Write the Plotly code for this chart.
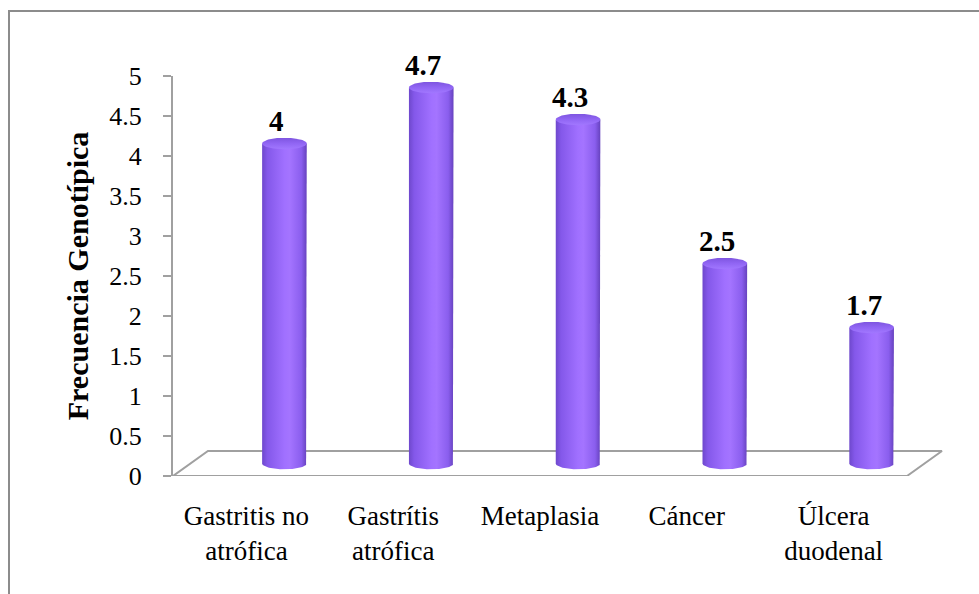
import numpy as np
import plotly.graph_objects as go

# --- data -------------------------------------------------------------
categorias = ["Gastritis no atrófica", "Gastrítis atrófica", "Metaplasia",
              "Cáncer", "Úlcera duodenal"]
etiquetas_eje = ["Gastritis no<br>atrófica", "Gastrítis<br>atrófica", "Metaplasia",
                 "Cáncer", "Úlcera<br>duodenal"]
frecuencia = [4.0, 4.7, 4.3, 2.5, 1.7]
etiquetas_valor = ["4", "4.7", "4.3", "2.5", "1.7"]
y_ticks = [0, 0.5, 1, 1.5, 2, 2.5, 3, 3.5, 4, 4.5, 5]
y_tick_text = ["0", "0.5", "1", "1.5", "2", "2.5", "3", "3.5", "4", "4.5", "5"]
Y_MAX = 5

# --- pseudo-3D geometry (axis units) -----------------------------------
FLOOR_DX, FLOOR_DY = 0.238, 0.3125      # depth of the floor plate
BAR_DX, BAR_DY = 0.259, 0.156           # where the cylinders stand in depth
RX, RY = 0.152, 0.072                   # cylinder ellipse half-axes
LABEL_DX, LABEL_DY = 0.205, 0.44        # value label offset from the category
GRAY = "#A0A0A0"
FONT = "Times New Roman, Liberation Serif, DejaVu Serif, serif"

fig = go.Figure()

# floor plate
n = len(categorias)
fx = [-0.5, n - 0.5, n - 0.5 + FLOOR_DX, -0.5 + FLOOR_DX, -0.5]
fy = [0, 0, FLOOR_DY, FLOOR_DY, 0]
fig.add_trace(go.Scatter(x=fx, y=fy, mode="lines", fill="toself",
                         fillcolor="white", line=dict(color=GRAY, width=2),
                         hoverinfo="skip", showlegend=False))

body_scale = [[0.0, "#6E48CC"], [0.12, "#8458EA"], [0.5, "#A070FF"],
              [0.62, "#A474FF"], [0.88, "#8A5EEE"], [1.0, "#6642BE"]]
top_scale = [[0.0, "#A278FF"], [0.5, "#9166F4"], [1.0, "#7E55E0"]]

theta_front = np.linspace(0, -np.pi, 40)
theta_full = np.linspace(0, 2 * np.pi, 80)

for i, v in enumerate(frecuencia):
    c = i + BAR_DX
    yb = BAR_DY
    yt = v + BAR_DY
    # cylinder body: sides plus the visible front half of the base
    bx = [c - RX, c - RX, c + RX, c + RX] + list(c + RX * np.cos(theta_front))
    by = [yb, yt, yt, yb] + list(yb + RY * np.sin(theta_front))
    fig.add_trace(go.Scatter(
        x=bx, y=by, mode="lines", fill="toself",
        fillgradient=dict(type="horizontal", colorscale=body_scale),
        line=dict(width=0, color="rgba(0,0,0,0)"),
        hoverinfo="skip", showlegend=False))
    # cylinder cap
    tx = c + RX * np.cos(theta_full)
    ty = yt + RY * np.sin(theta_full)
    fig.add_trace(go.Scatter(
        x=tx, y=ty, mode="lines", fill="toself",
        fillgradient=dict(type="vertical", colorscale=top_scale),
        line=dict(width=0, color="rgba(0,0,0,0)"),
        hoverinfo="skip", showlegend=False))

# value labels above each cylinder (paper y so labels above the top tick stay visible)
for i, (v, t) in enumerate(zip(frecuencia, etiquetas_valor)):
    fig.add_annotation(x=i + LABEL_DX, xref="x",
                       y=(v + LABEL_DY) / Y_MAX, yref="paper",
                       text=t, showarrow=False,
                       xanchor="center", yanchor="middle",
                       font=dict(family=FONT, size=29, color="black",
                                 weight="bold"))

fig.update_layout(
    width=979, height=594,
    margin=dict(l=173, r=36, t=76, b=118),
    paper_bgcolor="white", plot_bgcolor="white",
    xaxis=dict(range=[-0.5, n - 0.5 + 0.245], showline=False, showgrid=False,
               zeroline=False, tickmode="array", tickvals=list(range(n)),
               ticktext=etiquetas_eje, ticks="", ticklabelstandoff=21,
               tickfont=dict(family=FONT, size=27, color="black"),
               fixedrange=True),
    yaxis=dict(range=[0, Y_MAX], showline=True, linecolor=GRAY, linewidth=2,
               showgrid=False, zeroline=False, tickmode="array",
               tickvals=y_ticks, ticktext=y_tick_text, ticks="outside",
               ticklen=8, tickcolor=GRAY, tickwidth=2, ticklabelstandoff=16,
               tickfont=dict(family=FONT, size=26, color="black"),
               title=dict(text="Frecuencia Genotípica", standoff=12,
                          font=dict(family=FONT, size=30, color="black",
                                    weight="bold")),
               fixedrange=True),
    shapes=[dict(type="rect", xref="paper", yref="paper",
                 x0=(9 - 173) / 770, x1=(990 - 173) / 770,
                 y0=(476 - 610) / 400, y1=(476 - 11) / 400,
                 line=dict(color="#8C8C8C", width=2), fillcolor="rgba(0,0,0,0)",
                 layer="below")],
)

fig.write_html("out.html")
